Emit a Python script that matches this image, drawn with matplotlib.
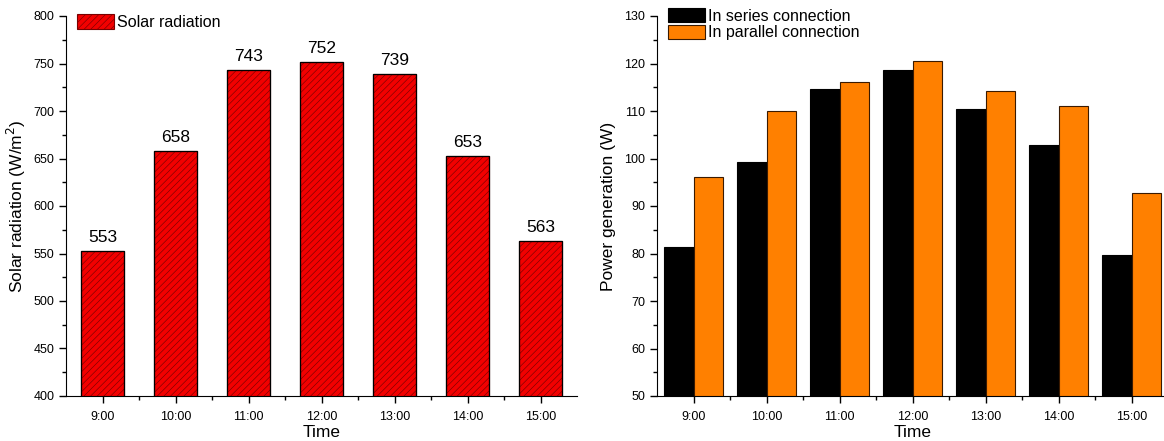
import numpy as np
import matplotlib
matplotlib.use('Agg')
import matplotlib.pyplot as plt
from matplotlib.ticker import MultipleLocator, FixedLocator

plt.rcParams['font.family'] = ['Liberation Sans', 'DejaVu Sans']
plt.rcParams['hatch.linewidth'] = 0.45

times = ['9:00', '10:00', '11:00', '12:00', '13:00', '14:00', '15:00']
radiation = [553, 658, 743, 752, 739, 653, 563]
series_power = [81.3, 99.2, 114.6, 118.6, 110.4, 102.9, 79.6]
parallel_power = [96.1, 110.0, 116.2, 120.6, 114.2, 111.1, 92.8]

x = np.arange(len(times))

fig = plt.figure(figsize=(11.64, 4.41), dpi=100)
axL = fig.add_axes([66/1164, 45/441, 511/1164, 380/441])
axR = fig.add_axes([657/1164, 45/441, 511/1164, 380/441])


def style_axis(ax):
    ax.spines['top'].set_visible(False)
    ax.spines['right'].set_visible(False)
    ax.set_xlim(-0.5, 6.5)
    ax.set_xticks(x)
    ax.set_xticklabels(times)
    ax.xaxis.set_minor_locator(FixedLocator(x[:-1] + 0.5))
    ax.tick_params(axis='both', which='major', direction='out', length=5, width=1,
                   labelsize=9, colors='black')
    ax.tick_params(axis='both', which='minor', direction='out', length=3, width=1)
    ax.tick_params(axis='x', which='major', pad=6)
    ax.set_xlabel('Time', fontsize=12.5, labelpad=1)


# ---- left: solar radiation
# hatched fill in dark red, then a plain black outline on top
axL.bar(x, radiation, width=0.6, color='#f20000', edgecolor='#7a0000',
        linewidth=0.8, hatch='/////', label='Solar radiation', zorder=2)
axL.bar(x, radiation, width=0.6, facecolor='none', edgecolor='black',
        linewidth=0.9, zorder=3)
for xi, v in zip(x, radiation):
    axL.text(xi, v + 6, str(v), ha='center', va='bottom', fontsize=12.5)
axL.set_ylim(400, 800)
axL.yaxis.set_major_locator(MultipleLocator(50))
axL.yaxis.set_minor_locator(MultipleLocator(25))
style_axis(axL)
axL.set_ylabel('Solar radiation (W/m$^2$)', fontsize=12.5, labelpad=4)
axL.legend(loc='upper left', bbox_to_anchor=(0.0, 1.035), frameon=False,
           fontsize=11.5, handlelength=2.3, handleheight=1.1, handletextpad=0.2,
           borderaxespad=0.3)

# ---- right: power generation
axR.bar(x - 0.2, series_power, width=0.4, color='black', edgecolor='black',
        linewidth=0.8, label='In series connection', zorder=2)
axR.bar(x + 0.2, parallel_power, width=0.4, color='#ff8000', edgecolor='#3a1a00',
        linewidth=0.8, label='In parallel connection', zorder=2)
axR.set_ylim(50, 130)
axR.yaxis.set_major_locator(MultipleLocator(10))
axR.yaxis.set_minor_locator(MultipleLocator(5))
style_axis(axR)
axR.set_ylabel('Power generation (W)', fontsize=12.5, labelpad=6)
axR.legend(loc='upper left', bbox_to_anchor=(0.0, 1.05), frameon=False,
           fontsize=11.5, handlelength=2.3, handleheight=1.0, handletextpad=0.2,
           labelspacing=0.05, borderaxespad=0.3)

fig.savefig('out.png', dpi=100)
